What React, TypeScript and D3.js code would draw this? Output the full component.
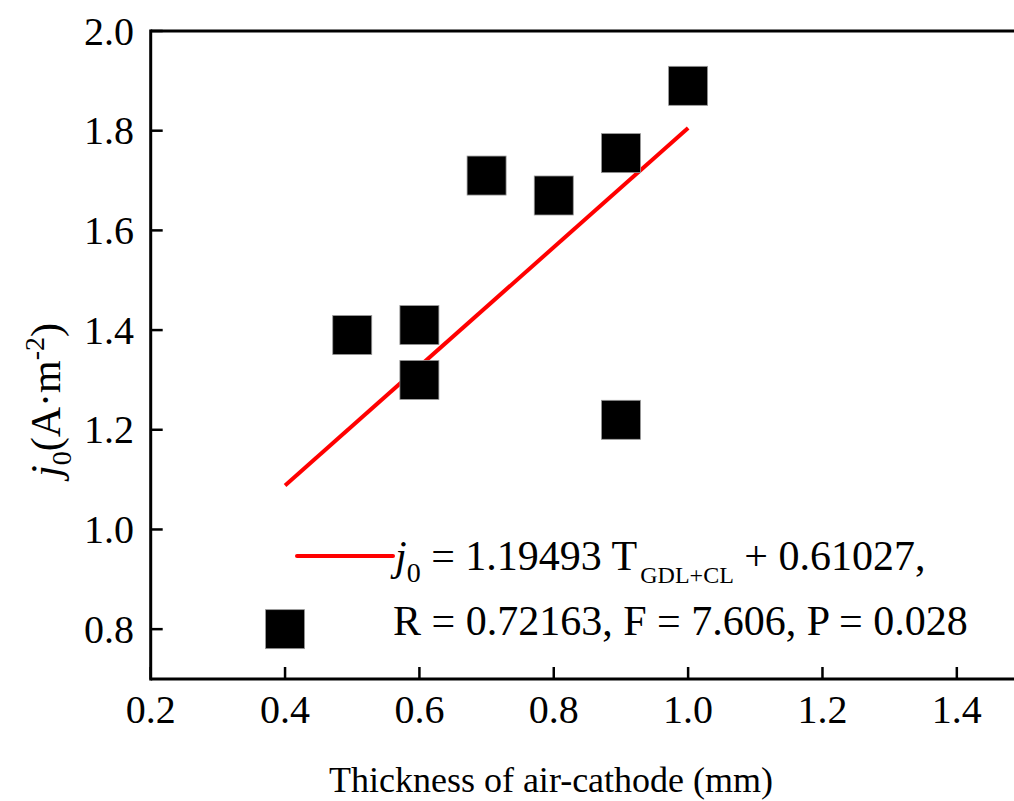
import React from "react";
import * as d3 from "d3";

const thickness = [0.4, 0.5, 0.6, 0.6, 0.7, 0.8, 0.9, 0.9, 1.0];
const j0Values = [0.8, 1.39, 1.41, 1.3, 1.71, 1.67, 1.755, 1.22, 1.89];
const xTicks = [0.2, 0.4, 0.6, 0.8, 1.0, 1.2, 1.4];
const yTicks = [0.8, 1.0, 1.2, 1.4, 1.6, 1.8, 2.0];
const fitSlope = 1.19493;
const fitIntercept = 0.61027;
const fitRange = [0.4, 1.0];

const W = 1014;
const H = 801;
const FONT = '"Liberation Serif", "Times New Roman", serif';

export default function App() {
  const x = d3.scaleLinear().domain([0.2, 1.5]).range([150.7, 1024]);
  const y = d3.scaleLinear().domain([0.7, 2.0]).range([679, 31]);
  const sq = 39;
  const tickLen = 12;
  const fitLine = d3
    .line<number>()
    .x((d) => x(d))
    .y((d) => y(fitSlope * d + fitIntercept));

  return (
    <svg
      width={W}
      height={H}
      style={{ position: "absolute", left: 0, top: 0, background: "#fff" }}
      fontFamily={FONT}
    >
      <rect x={0} y={0} width={W} height={H} fill="#fff" />
      {/* frame */}
      <line x1={x(0.2)} x2={x(1.5)} y1={y(2.0)} y2={y(2.0)} stroke="#000" strokeWidth={3} />
      <line x1={x(0.2)} x2={x(1.5)} y1={y(0.7)} y2={y(0.7)} stroke="#000" strokeWidth={3} />
      <line x1={x(0.2)} x2={x(0.2)} y1={y(2.0) - 1.5} y2={y(0.7) + 1.5} stroke="#000" strokeWidth={3} />
      <line x1={x(1.5)} x2={x(1.5)} y1={y(2.0)} y2={y(0.7)} stroke="#000" strokeWidth={3} />
      {/* x ticks */}
      {xTicks.map((t) => (
        <g key={"x" + t}>
          <line x1={x(t)} x2={x(t)} y1={y(0.7)} y2={y(0.7) - tickLen} stroke="#000" strokeWidth={2.5} />
          <text x={x(t)} y={723} fontSize={40} textAnchor="middle" fill="#000">
            {t.toFixed(1)}
          </text>
        </g>
      ))}
      {/* y ticks */}
      {yTicks.map((t) => (
        <g key={"y" + t}>
          <line x1={x(0.2)} x2={x(0.2) + tickLen} y1={y(t)} y2={y(t)} stroke="#000" strokeWidth={2.5} />
          <text x={134} y={y(t) + 13.5} fontSize={40} textAnchor="end" fill="#000">
            {t.toFixed(1)}
          </text>
        </g>
      ))}
      {/* axis titles */}
      <text x={551} y={792} fontSize={36} textAnchor="middle" fill="#000">
        Thickness of air-cathode (mm)
      </text>
      <text
        transform={`translate(60, 400) rotate(-90)`}
        fontSize={42}
        textAnchor="middle"
        fill="#000"
      >
        <tspan fontStyle="italic">j</tspan>
        <tspan fontSize={28} dy={11}>0</tspan>
        <tspan dy={-11}>(A·m</tspan>
        <tspan fontSize={28} dy={-16}>-2</tspan>
        <tspan dy={16}>)</tspan>
      </text>
      {/* fit line */}
      <path d={fitLine(fitRange) || ""} stroke="#ff0000" strokeWidth={4} fill="none" />
      {/* points */}
      {thickness.map((t, i) => (
        <rect
          key={i}
          x={x(t) - sq / 2}
          y={y(j0Values[i]) - sq / 2}
          width={sq}
          height={sq}
          fill="#000"
          stroke="#999"
          strokeWidth={0.8}
        />
      ))}
      {/* legend */}
      <line x1={297} x2={393} y1={556} y2={556} stroke="#ff0000" strokeWidth={4} strokeLinecap="round" />
      <text x={395} y={570} fontSize={42} fill="#000">
        <tspan fontStyle="italic">j</tspan>
        <tspan fontSize={28} dy={12}>0</tspan>
        <tspan dy={-12}>{" = 1.19493 T"}</tspan>
        <tspan fontSize={24} dy={13} dx={3}>GDL+CL</tspan>
        <tspan dy={-13}>{" + 0.61027,"}</tspan>
      </text>
      <text x={393} y={635} fontSize={42} fill="#000">
        R = 0.72163, F = 7.606, P = 0.028
      </text>
    </svg>
  );
}
